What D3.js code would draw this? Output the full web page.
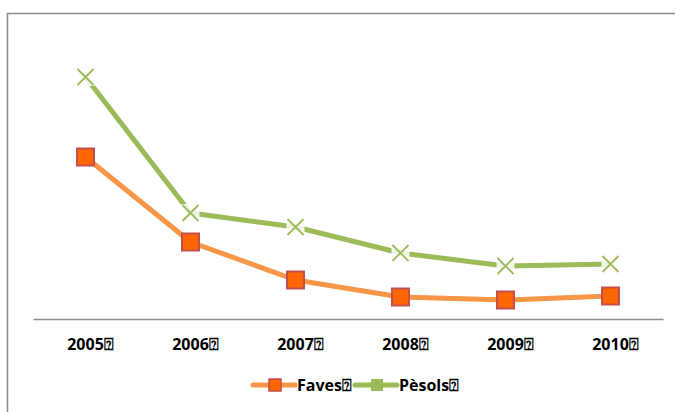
<!DOCTYPE html>
<html>
<head>
<meta charset="utf-8">
<script src="https://cdn.jsdelivr.net/npm/d3@7"></script>
<style>
  html, body { margin: 0; padding: 0; background: #fff; }
  svg { display: block; }
  text { font-family: "Open Sans", "Liberation Sans", sans-serif; font-weight: bold; fill: #000; }
</style>
</head>
<body>
<svg id="chart" width="675" height="412"></svg>
<script>
// Production by year (same units for both crops)
const years = ["2005", "2006", "2007", "2008", "2009", "2010"];
const yearLabels = ["2005⍰", "2006⍰", "2007⍰", "2008⍰", "2009⍰", "2010⍰"];
const faves = [162, 77, 39, 22, 19, 23];
const pesols = [242, 106, 92, 66, 53, 55];
const seriesNames = ["Faves⍰", "Pèsols⍰"];

const svg = d3.select("#chart");

// Outer chart frame (right and bottom edges fall outside the view)
svg.append("rect")
  .attr("x", 7.5).attr("y", 13.5)
  .attr("width", 700).attr("height", 420)
  .attr("fill", "none").attr("stroke", "#8c8c8c").attr("stroke-width", 1.5);

const x = d3.scaleBand().domain(years).range([33, 663]);
const y = d3.scaleLinear().domain([0, 300]).range([319, 19]);

// Category axis
const xAxis = svg.append("g")
  .attr("transform", "translate(0,319)")
  .call(d3.axisBottom(x).tickSize(0).tickPadding(0).tickFormat((d, i) => yearLabels[i]));
xAxis.select(".domain").attr("stroke", "#8c8c8c").attr("stroke-width", 1.5);
xAxis.selectAll("text")
  .attr("dy", null).attr("y", 31).attr("dx", 5)
  .style("font-size", "16px")
  .style("font-family", "'Open Sans', 'Liberation Sans', sans-serif")
  .style("font-weight", "bold");

const cx = d => x(d) + x.bandwidth() / 2;
const line = d3.line().x((d, i) => cx(years[i])).y(d => y(d));

const orange = "#f79646", green = "#9bbb59";

// Series lines
svg.append("path").datum(faves).attr("d", line)
  .attr("fill", "none").attr("stroke", orange).attr("stroke-width", 5).attr("stroke-linejoin", "round");
svg.append("path").datum(pesols).attr("d", line)
  .attr("fill", "none").attr("stroke", green).attr("stroke-width", 5).attr("stroke-linejoin", "round");

// Square markers for Faves
const sq = 17;
svg.append("g").selectAll("rect").data(faves).join("rect")
  .attr("x", (d, i) => cx(years[i]) - sq / 2)
  .attr("y", d => y(d) - sq / 2)
  .attr("width", sq).attr("height", sq)
  .attr("fill", "#ff6600").attr("stroke", "#c0504d").attr("stroke-width", 2);

// Cross markers for Pèsols
const xs = 8;
const crosses = svg.append("g").selectAll("g").data(pesols).join("g")
  .attr("transform", (d, i) => `translate(${cx(years[i])},${y(d)})`);
crosses.append("rect")
  .attr("x", -xs - 1).attr("y", -xs - 1).attr("width", 2 * xs + 2).attr("height", 2 * xs + 2)
  .attr("fill", "#fff").attr("opacity", 0.85);
crosses.append("path")
  .attr("d", `M${-xs},${-xs}L${xs},${xs}M${-xs},${xs}L${xs},${-xs}`)
  .attr("stroke", green).attr("stroke-width", 1.8).attr("fill", "none");

// Legend
const legend = svg.append("g");
const items = [
  { name: seriesNames[0], color: orange, x0: 253 },
  { name: seriesNames[1], color: green, x0: 355 }
];
items.forEach((it, k) => {
  const g = legend.append("g").attr("transform", `translate(${it.x0},385)`);
  g.append("line").attr("x1", 0).attr("x2", 42).attr("y1", 0).attr("y2", 0)
    .attr("stroke", it.color).attr("stroke-width", 5).attr("stroke-linecap", "round");
  if (k === 0) {
    g.append("rect").attr("x", 16).attr("y", -6).attr("width", 12).attr("height", 12)
      .attr("fill", "#ff6600").attr("stroke", "#c0504d").attr("stroke-width", 1.5);
  } else {
    g.append("rect").attr("x", 16).attr("y", -6).attr("width", 12).attr("height", 12)
      .attr("fill", green);
  }
  g.append("text").attr("x", 44).attr("y", 6).style("font-size", "16px").text(it.name);
});
</script>
</body>
</html>
